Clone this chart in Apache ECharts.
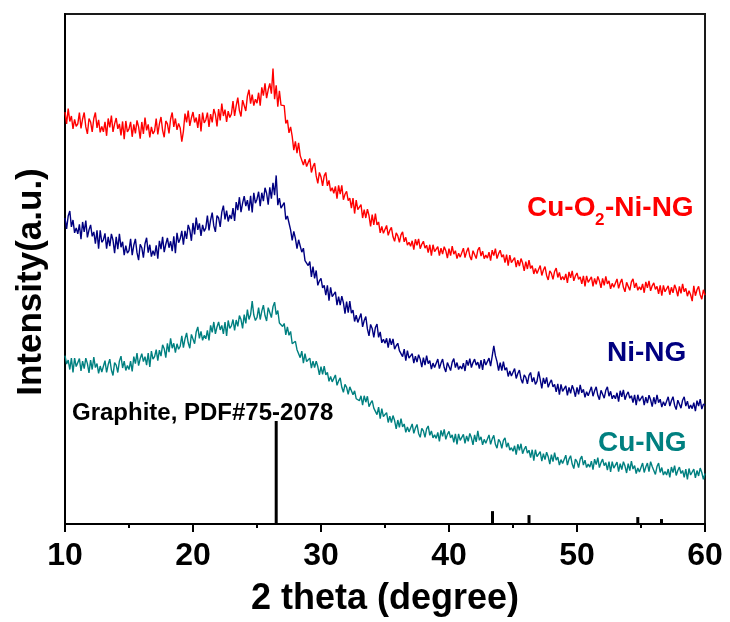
<!DOCTYPE html>
<html>
<head>
<meta charset="utf-8">
<style>
  html, body { margin: 0; padding: 0; background: #fff; }
  #chart { width: 730px; height: 622px; }
</style>
<script src="https://cdn.jsdelivr.net/npm/echarts@6/dist/echarts.min.js"></script>
</head>
<body>
<div id="chart"></div>
<script>
// XRD patterns, 2θ from 10° to 60° sampled every 0.125°; intensities in arbitrary units.
// Each row holds the eight samples of one degree (10°, 11°, ... 59°), then the 60° point.
const thetaStart = 10;
const thetaStep = 0.125;

const cuO2NiNG = [
  832,808,839,813,824,798,817,803,
  808,831,799,818,831,802,788,819,
  812,792,819,831,800,816,791,803,
  792,812,784,819,801,825,792,808,
  820,798,808,785,813,777,814,792,
  798,812,782,807,789,815,802,778,
  812,788,821,795,807,781,802,788,
  794,819,787,808,822,795,781,814,
  808,789,818,831,802,819,796,809,
  800,772,793,829,811,835,804,820,
  832,811,821,800,828,793,831,810,
  816,831,802,828,811,838,827,803,
  838,815,849,824,837,812,834,821,
  828,854,824,845,861,835,823,856,
  852,834,864,877,849,867,845,858,
  850,871,845,882,865,890,860,877,
  890,869,920,858,886,843,875,846,
  846,845,809,816,790,802,783,755,
  773,749,770,744,748,725,737,722,
  723,738,710,722,729,703,688,710,
  701,683,703,710,683,694,672,679,
  668,682,657,684,666,684,655,666,
  672,653,658,638,658,627,654,635,
  636,645,618,635,618,636,623,601,
  625,604,627,604,610,588,601,587,
  590,603,583,593,599,580,571,588,
  582,569,584,590,570,579,563,569,
  561,572,554,575,563,576,556,565,
  571,557,563,548,564,542,564,550,
  553,560,542,557,545,560,552,537,
  556,542,561,545,552,536,547,539,
  542,557,538,550,558,541,533,552,
  548,536,553,559,541,551,536,543,
  537,549,532,553,542,556,536,546,
  553,539,544,528,544,522,543,528,
  531,538,519,533,521,536,527,511,
  530,515,533,516,522,505,516,506,
  508,522,502,513,520,502,493,511,
  506,494,510,517,498,508,493,500,
  493,505,487,509,497,511,491,501,
  507,494,499,485,501,480,501,488,
  491,499,480,496,484,500,491,477,
  496,482,500,485,491,475,486,478,
  480,495,476,487,495,478,469,488,
  484,472,489,495,477,487,472,479,
  473,485,467,489,477,491,471,481,
  487,474,480,465,482,461,482,469,
  473,481,463,478,467,483,474,460,
  480,466,485,469,476,460,471,463,
  450,481,461,473,480,463,454,473,
  462
];

const niNG = [
  618,596,622,632,600,614,588,598,
  586,605,575,610,590,613,579,594,
  604,581,590,566,593,556,593,569,
  574,587,556,580,561,586,573,547,
  580,555,586,559,570,543,562,547,
  552,576,543,563,576,548,533,565,
  558,538,566,578,548,564,540,552,
  542,563,536,572,555,580,549,565,
  578,558,571,551,581,547,588,568,
  576,592,564,592,576,604,594,572,
  608,585,619,594,607,582,604,591,
  598,623,593,614,629,602,590,623,
  618,600,630,643,615,633,611,624,
  616,638,612,650,634,660,630,648,
  662,642,654,633,663,629,669,648,
  656,671,642,669,652,679,668,645,
  680,657,689,664,704,644,658,638,
  639,649,615,622,624,594,573,591,
  577,556,574,578,549,557,532,536,
  522,530,499,520,496,512,482,491,
  496,477,482,462,482,451,478,459,
  460,469,442,459,442,460,447,425,
  449,427,450,426,432,409,422,407,
  409,425,398,411,419,394,380,403,
  395,377,397,404,377,388,366,373,
  365,375,356,375,362,374,353,360,
  365,350,354,338,353,330,350,335,
  337,344,325,339,327,342,333,317,
  336,321,340,324,330,313,325,316,
  318,333,314,325,333,316,307,326,
  322,310,327,334,316,326,312,319,
  313,325,309,331,320,334,316,326,
  333,321,327,314,331,311,333,321,
  325,335,319,339,360,340,328,310,
  326,310,328,311,316,298,309,299,
  300,314,294,304,311,293,284,301,
  296,283,300,306,287,296,282,288,
  308,292,274,295,283,296,276,285,
  291,277,282,267,283,261,282,268,
  271,279,260,276,264,280,271,257,
  276,262,281,265,272,256,267,259,
  262,277,258,269,277,260,251,270,
  266,254,270,277,258,268,253,260,
  253,265,247,269,257,271,251,261,
  267,254,259,245,261,240,261,248,
  251,259,240,256,244,260,251,237,
  256,242,261,245,252,236,247,239,
  242,257,238,249,257,240,231,250,
  246,234,250,257,238,248,233,240,
  233,245,228,249,238,252,232,242,
  240
];

const cuNG = [
  340,323,331,312,335,306,335,318,
  322,334,309,329,314,335,324,305,
  331,312,337,316,324,304,319,307,
  311,330,306,322,333,311,300,326,
  321,306,329,339,315,329,310,320,
  312,329,308,338,324,345,320,334,
  344,328,338,321,345,317,349,333,
  338,352,330,351,339,362,354,336,
  365,347,375,355,365,346,364,353,
  359,380,356,374,386,366,355,383,
  379,364,388,398,375,389,371,381,
  374,391,371,401,387,408,384,398,
  408,392,401,384,408,380,411,395,
  400,413,391,412,399,421,413,395,
  423,405,433,413,423,450,422,411,
  417,437,413,430,442,421,410,437,
  433,417,439,448,423,431,406,410,
  399,405,382,398,381,389,364,368,
  369,352,354,336,349,325,344,328,
  329,335,315,329,316,329,318,301,
  318,302,319,301,306,288,298,287,
  288,301,280,289,295,276,266,282,
  276,262,277,281,261,269,253,257,
  249,259,240,259,246,258,237,244,
  249,234,238,221,236,213,233,217,
  219,225,205,218,205,219,209,192,
  210,195,213,196,202,185,196,186,
  188,202,183,194,201,183,175,193,
  188,175,192,198,179,188,174,180,
  173,185,167,189,177,191,171,181,
  187,174,180,165,182,161,182,169,
  173,181,163,178,167,183,174,160,
  180,166,188,169,176,160,171,163,
  166,180,161,172,179,161,153,171,
  166,153,169,174,155,164,149,154,
  147,158,140,161,149,162,142,151,
  157,143,149,134,150,128,150,136,
  139,146,127,142,130,145,136,121,
  140,126,144,129,135,119,130,122,
  124,139,119,131,138,121,112,131,
  126,114,131,137,119,129,114,121,
  115,127,110,131,120,134,114,124,
  131,118,124,109,126,105,126,113,
  117,125,106,122,110,126,117,103,
  122,108,127,111,118,102,113,105,
  108,123,104,115,123,106,126,116,
  112,100,116,123,104,114,99,106,
  99,111,94,115,104,118,98,108,
  115,102,108,94,111,90,112,99,
  103,111,93,108,97,113,104,90,
  102
];

// Graphite reference pattern (PDF#75-2078): line positions and relative heights
const refTheta = [26.5, 43.4, 46.25, 54.75, 56.6];
const refHeight = [208, 26, 18, 14, 10];

const xTicks = [10, 20, 30, 40, 50, 60];

const FONT = '"Liberation Sans", Arial, Helvetica, sans-serif';

function toPairs(values) {
  return values.map((v, i) => [thetaStart + i * thetaStep, v]);
}

const chart = echarts.init(document.getElementById('chart'), null, { renderer: 'canvas' });

function traceSeries(name, values, color) {
  return {
    name: name, type: 'line', data: toPairs(values),
    showSymbol: false, symbol: 'none',
    lineStyle: { color: color, width: 1.4 }, z: 3
  };
}

const option = {
  animation: false,
  backgroundColor: '#fff',
  grid: {
    left: 65, right: 25, top: 14, bottom: 93,
    show: true, borderColor: '#1a1a1a', borderWidth: 2, backgroundColor: 'transparent'
  },
  xAxis: {
    type: 'value',
    min: xTicks[0], max: xTicks[xTicks.length - 1], interval: 10,
    name: '2 theta (degree)',
    nameLocation: 'middle',
    nameGap: 57,
    nameTextStyle: { fontFamily: FONT, fontWeight: 'bold', fontSize: 36, color: '#000' },
    axisLine: { show: true, onZero: false, lineStyle: { color: '#000', width: 2 } },
    axisTick: { show: true, inside: false, length: 8, lineStyle: { color: '#000', width: 2 } },
    minorTick: { show: true, splitNumber: 2, length: 4, lineStyle: { color: '#000', width: 2 } },
    splitLine: { show: false },
    axisLabel: { fontFamily: FONT, fontWeight: 'bold', fontSize: 32, color: '#000', margin: 16 }
  },
  yAxis: {
    type: 'value',
    min: 0, max: 1030,
    axisLine: { show: true, onZero: false, lineStyle: { color: '#000', width: 2 } },
    axisTick: { show: false },
    axisLabel: { show: false },
    splitLine: { show: false }
  },
  series: [
    traceSeries('Cu-O2-Ni-NG', cuO2NiNG, '#ff0000'),
    traceSeries('Ni-NG', niNG, '#000080'),
    traceSeries('Cu-NG', cuNG, '#008080'),
    {
      name: 'Graphite', type: 'custom',
      data: refTheta.map((t, i) => [t, refHeight[i]]),
      renderItem: function (params, api) {
        const base = api.coord([api.value(0), 0]);
        const top = api.coord([api.value(0), api.value(1)]);
        return {
          type: 'line',
          shape: { x1: base[0], y1: base[1], x2: top[0], y2: top[1] },
          style: { stroke: '#000', lineWidth: 3 }
        };
      },
      z: 2
    }
  ],
  graphic: [
    {
      type: 'text', x: 31, y: 282, rotation: Math.PI / 2,
      style: {
        text: 'Intensity(a.u.)', font: 'bold 35px ' + FONT, fill: '#000',
        textAlign: 'center', textVerticalAlign: 'middle'
      }
    },
    { type: 'text', left: 527, top: 194, style: { text: 'Cu-O', font: 'bold 28px ' + FONT, fill: '#ff0000' } },
    { type: 'text', left: 595, top: 212, style: { text: '2', font: 'bold 17px ' + FONT, fill: '#ff0000' } },
    { type: 'text', left: 605, top: 194, style: { text: '-Ni-NG', font: 'bold 28px ' + FONT, fill: '#ff0000' } },
    { type: 'text', left: 607, top: 339, style: { text: 'Ni-NG', font: 'bold 28px ' + FONT, fill: '#000080' } },
    { type: 'text', left: 598, top: 429, style: { text: 'Cu-NG', font: 'bold 28px ' + FONT, fill: '#008080' } },
    { type: 'text', left: 72, top: 401, style: { text: 'Graphite, PDF#75-2078', font: 'bold 24px ' + FONT, fill: '#000' } }
  ]
};

chart.setOption(option);
</script>
</body>
</html>
